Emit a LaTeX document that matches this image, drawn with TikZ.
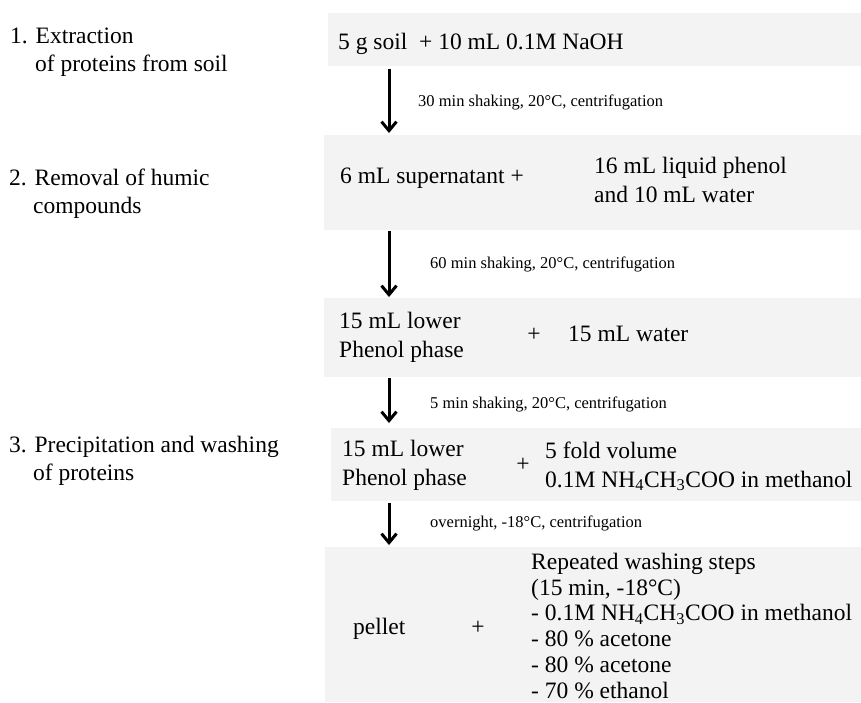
\documentclass[tikz,border=0pt]{standalone}
\usepackage{fontspec}
\setmainfont{Liberation Serif}
\usetikzlibrary{arrows.meta}
\definecolor{boxgray}{RGB}{243,243,243}
\begin{document}
\begin{tikzpicture}[x=1pt,y=-1pt,
  stepbox/.style={fill=boxgray, draw=none, inner sep=0pt, outer sep=0pt, anchor=north west},
  txt/.style={font=\fontsize{23.5}{28}\selectfont, inner sep=0pt, anchor=base west},
  lbl/.style={font=\fontsize{16.5}{20}\selectfont, inner sep=0pt, anchor=base west},
  flow/.style={line width=3pt, -{Straight Barb[length=9pt,width=15pt]}}]
\useasboundingbox (0,0) rectangle (861,702);
% boxes
\node[stepbox, minimum width=533pt, minimum height=53pt] (b1) at (328,13) {};
\node[stepbox, minimum width=537pt, minimum height=95pt] (b2) at (324,135) {};
\node[stepbox, minimum width=537pt, minimum height=79pt] (b3) at (324,298) {};
\node[stepbox, minimum width=530pt, minimum height=73pt] (b4) at (331,428) {};
\node[stepbox, minimum width=536pt, minimum height=155pt] (b5) at (325,547) {};
% arrows
\coordinate (ax) at (389,0);
\draw[flow, shorten <=3pt, shorten >=2pt] (b1.south -| ax) -- (b2.north -| ax);
\draw[flow, shorten <=1pt, shorten >=1pt] (b2.south -| ax) -- (b3.north -| ax);
\draw[flow, shorten <=1pt, shorten >=5pt] (b3.south -| ax) -- (b4.north -| ax);
\draw[flow, shorten <=2pt, shorten >=2pt] (b4.south -| ax) -- (b5.north -| ax);
% left step labels
\node[txt] (s1a) at (10,43) {1. Extraction};
\node[txt] (s1b) at (35,71) {of proteins from soil};
\node[txt] (s2a) at (9,185) {2. Removal of humic};
\node[txt] (s2b) at (33,213) {compounds};
\node[txt] (s3a) at (9,452) {3. Precipitation and washing};
\node[txt] (s3b) at (33,480) {of proteins};
% box 1
\node[txt] (t1) at (338,49) {5 g soil~~+ 10 mL 0.1M NaOH};
% box 2
\node[txt] (t2a) at (340,183) {6 mL supernatant +};
\node[txt] (t2b) at (594,173) {16 mL liquid phenol};
\node[txt] (t2c) at (594,202) {and 10 mL water};
% box 3
\node[txt] (t3a) at (339,328) {15 mL lower};
\node[txt] (t3b) at (339,357) {Phenol phase};
\node[txt, anchor=base] (p3) at (534,341) {+};
\node[txt] (t3c) at (568,341) {15 mL water};
% box 4
\node[txt] (t4a) at (342,456) {15 mL lower};
\node[txt] (t4b) at (342,485) {Phenol phase};
\node[txt, anchor=base] (p4) at (523,471) {+};
\node[txt] (t4c) at (545,458) {5 fold volume};
\node[txt] (t4d) at (545,487) {0.1M NH\textsubscript{4}CH\textsubscript{3}COO in methanol};
% box 5
\node[txt] (t5a) at (353,634) {pellet};
\node[txt, anchor=base] (p5) at (478,634) {+};
\node[txt] (w1) at (531,569) {Repeated washing steps};
\node[txt] (w2) at (531,595) {(15 min, -18°C)};
\node[txt] (w3) at (531,620.5) {- 0.1M NH\textsubscript{4}CH\textsubscript{3}COO in methanol};
\node[txt] (w4) at (531,646.5) {- 80 \% acetone};
\node[txt] (w5) at (531,672) {- 80 \% acetone};
\node[txt] (w6) at (531,698) {- 70 \% ethanol};
% step conditions
\node[lbl] (l1) at (418,106) {30 min shaking, 20°C, centrifugation};
\node[lbl] (l2) at (430,268) {60 min shaking, 20°C, centrifugation};
\node[lbl] (l3) at (430,408) {5 min shaking, 20°C, centrifugation};
\node[lbl] (l4) at (430,527) {overnight, -18°C, centrifugation};
\end{tikzpicture}
\end{document}
